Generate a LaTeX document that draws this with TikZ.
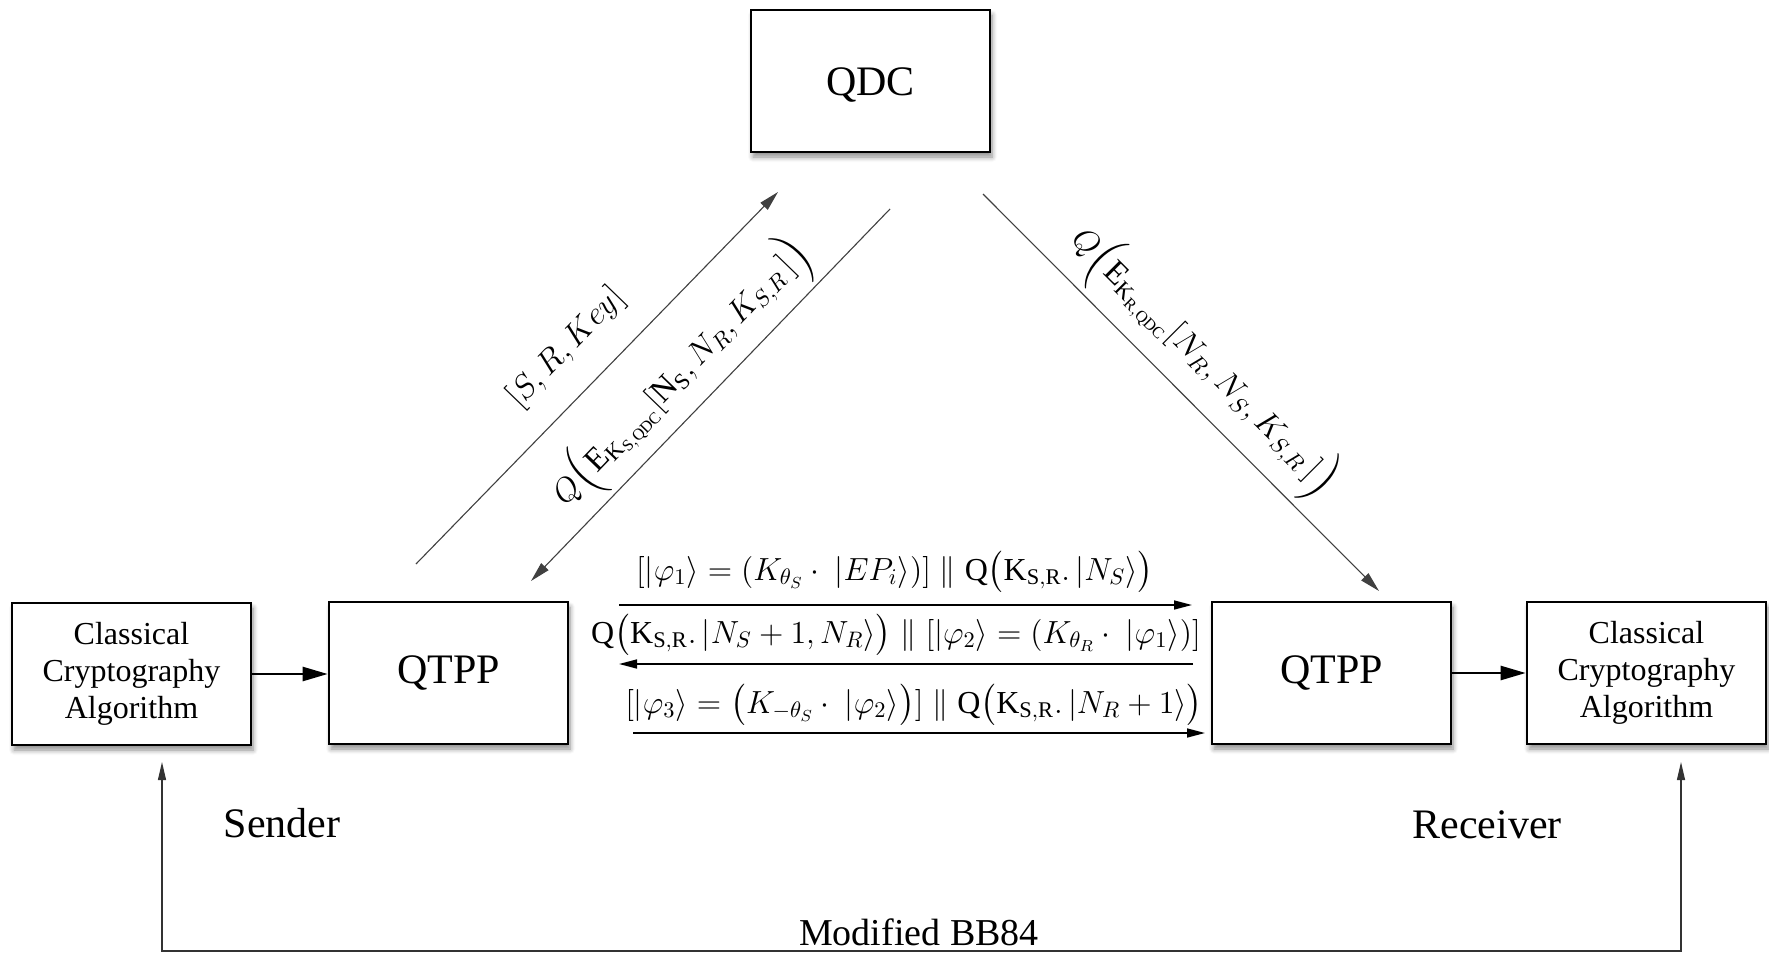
\RequirePackage{fix-cm}
\documentclass[tikz,border=0pt]{standalone}
\usepackage{amsmath}
\usepackage{fontspec}
\setmainfont{Liberation Serif}
\usetikzlibrary{arrows.meta,shadows.blur}
\newcommand{\ccatext}{\raisebox{-1.5pt}{\begin{tabular}{@{}c@{}}Classical\\Cryptography\\Algorithm\end{tabular}}}
\begin{document}
\begin{tikzpicture}[x=0.5pt,y=-0.5pt,
  box/.style={draw, line width=1.3pt, fill=white, minimum width=119.5pt,
    minimum height=71pt, inner sep=0pt, align=center,
    blur shadow={shadow xshift=1pt, shadow yshift=-2.5pt, shadow blur radius=2.5pt,
      shadow blur steps=6, shadow opacity=45}},
  bigtxt/.style={font=\fontsize{21}{25}\selectfont},
  clstxt/.style={font=\fontsize{16}{18.6}\selectfont},
  diag/.style={draw=black!75, line width=0.55pt, -{Triangle[length=10pt,width=5pt]}},
  midarr/.style={line width=0.8pt, -{Triangle[length=9pt,width=4.5pt]}},
  boxarr/.style={line width=1.2pt, -{Triangle[length=12.5pt,width=7pt]}},
  botarr/.style={draw=black!80, line width=0.6pt, {Triangle[length=9pt,width=4pt]}-{Triangle[length=9pt,width=4pt]}},
  mathlbl/.style={font=\fontsize{16}{19}\selectfont, inner sep=0pt},
  diaglbl/.style={font=\fontsize{16.3}{19}\selectfont, inner sep=0pt},
  plain/.style={font=\fontsize{21}{25}\selectfont, inner sep=0pt}
]
\useasboundingbox (0,0) rectangle (1769,953);

% boxes
\node[box, bigtxt, text height=18pt] (qdc) at (870.5,81) {QDC};
\node[box, clstxt] (csl) at (131.5,674) {\ccatext};
\node[box, bigtxt] (qtl) at (448.5,673) {QTPP};
\node[box, bigtxt] (qtr) at (1331.5,673) {QTPP};
\node[box, clstxt] (csr) at (1646.5,673) {\ccatext};

% box-to-box arrows
\draw[boxarr] (csl.east) -- (csl.east -| qtl.west);
\draw[boxarr] (qtr.east) -- (csr.west);

% diagonal connectors
\coordinate (u1) at (416,564);
\coordinate (u2) at (778,192);
\coordinate (d1) at (890,209);
\coordinate (d2) at (531,581);
\coordinate (r1) at (983,194);
\coordinate (r2) at (1379,591);
\draw[diag] (u1) -- (u2);
\draw[diag] (d1) -- (d2);
\draw[diag] (r1) -- (r2);

\node[rotate=46, font=\fontsize{16.5}{19}\selectfont, inner sep=0pt] (lskey) at (566,348) {$[S,R,Key]$};
\node[rotate=46, diaglbl] (lqs) at (682,374)
  {$Q\Bigl(\mathrm{E}_{\mathrm{K}_{\mathrm{S,QDC}}}[\mathrm{N}_{\mathrm{S}},N_R,K_{S,R}\,]\Bigr)$};
\node[rotate=-45, diaglbl] (lqr) at (1203,362)
  {$Q\Bigl(\mathrm{E}_{\mathrm{K}_{\mathrm{R,QDC}}}[N_R,N_S,K_{S,R}\,]\Bigr)$};

% middle exchange
\coordinate (m1a) at (619,605);
\coordinate (m1b) at (1192,605);
\coordinate (m2a) at (1193,664);
\coordinate (m2b) at (619,664);
\coordinate (m3a) at (633,733);
\coordinate (m3b) at (1205,733);
\draw[midarr] (m1a) -- (m1b);
\draw[midarr] (m2a) -- (m2b);
\draw[midarr] (m3a) -- (m3b);

\node[mathlbl] (t1) at (895,572)
  {$[|\varphi_1\rangle = (K_{\theta_S}\cdot\ |EP_i\rangle)] \parallel \mathrm{Q}\bigl(\mathrm{K}_{\mathrm{S,R}}.\,|N_S\rangle\bigr)$};
\node[mathlbl] (t2) at (896,635)
  {$\mathrm{Q}\bigl(\mathrm{K}_{\mathrm{S,R}}.\,|N_S+1,N_R\rangle\bigr) \parallel [|\varphi_2\rangle = (K_{\theta_R}\cdot\ |\varphi_1\rangle)]$};
\node[mathlbl] (t3) at (914,705)
  {$[|\varphi_3\rangle = \bigl(K_{-\theta_S}\cdot\ |\varphi_2\rangle\bigr)] \parallel \mathrm{Q}\bigl(\mathrm{K}_{\mathrm{S,R}}.\,|N_R+1\rangle\bigr)$};

% bottom link
\coordinate (tl) at (162,762);
\coordinate (bl) at (162,951);
\coordinate (br) at (1681,951);
\coordinate (tr) at (1681,762);
\draw[botarr] (tl) -- (bl) -- (br) -- (tr);

\node[plain] (snd) at (282,823) {Sender};
\node[plain] (rcv) at (1487,825) {Receiver};
\node[font=\fontsize{19}{22}\selectfont, inner sep=0pt] (bb) at (919,932) {Modified BB84};
\end{tikzpicture}
\end{document}
